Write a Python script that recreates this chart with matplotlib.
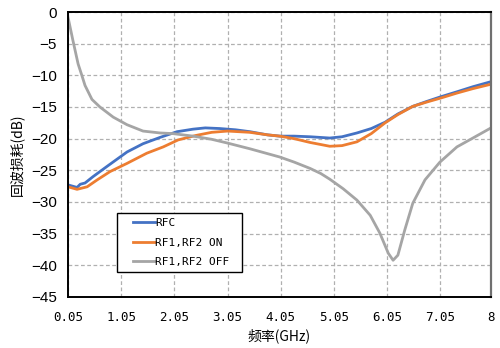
import matplotlib.pyplot as plt
import matplotlib.patches as mpatches
import numpy as np

# readings taken off the reference chart
freq_rfc = [0.05, 0.22, 0.28, 0.37, 0.52, 0.78, 1.16, 1.46, 1.78, 2.10, 2.40, 2.63, 2.90,
            3.20, 3.47, 3.80, 4.03, 4.30, 4.60, 4.97, 5.20, 5.48, 5.75, 6.01, 6.25, 6.53,
            6.80, 7.05, 7.36, 7.66, 8.0]
s11_rfc = [-27.3, -27.7, -27.2, -27.0, -26.0, -24.4, -22.1, -20.8, -19.8, -18.9, -18.5, -18.3,
           -18.4, -18.6, -18.9, -19.4, -19.6, -19.6, -19.7, -19.9, -19.7, -19.1, -18.4, -17.4,
           -16.1, -14.9, -14.1, -13.4, -12.6, -11.8, -11.0]

freq_on = [0.05, 0.22, 0.41, 0.60, 0.84, 1.16, 1.53, 1.84, 2.12, 2.45, 2.75, 3.05, 3.47,
           3.80, 4.03, 4.30, 4.60, 4.97, 5.20, 5.48, 5.75, 6.01, 6.25, 6.53, 6.80, 7.05,
           7.36, 7.66, 8.0]
s11_on = [-27.6, -28.0, -27.6, -26.5, -25.2, -23.9, -22.3, -21.3, -20.2, -19.5, -19.0, -18.8,
          -19.0, -19.4, -19.6, -20.0, -20.6, -21.2, -21.1, -20.5, -19.2, -17.5, -16.2, -14.9,
          -14.2, -13.6, -12.8, -12.1, -11.4]

freq_off = [0.05, 0.10, 0.14, 0.24, 0.31, 0.37, 0.50, 0.65, 0.90, 1.16, 1.46, 1.78, 2.02,
            2.40, 2.75, 3.05, 3.47, 4.03, 4.30, 4.60, 4.80, 4.97, 5.22, 5.48, 5.73, 5.91,
            6.07, 6.16, 6.25, 6.38, 6.53, 6.76, 7.04, 7.36, 7.66, 8.0]
s11_off = [-0.8, -2.8, -4.4, -8.2, -10.0, -11.6, -13.8, -15.0, -16.6, -17.8, -18.8, -19.1,
           -19.2, -19.6, -20.1, -20.7, -21.6, -22.9, -23.7, -24.7, -25.5, -26.4, -27.9, -29.7,
           -32.1, -34.9, -38.1, -39.2, -38.4, -34.4, -30.2, -26.5, -23.7, -21.3, -19.9, -18.3]

xticks = [0.05, 1.05, 2.05, 3.05, 4.05, 5.05, 6.05, 7.05, 8]
xtick_labels = ['0.05', '1.05', '2.05', '3.05', '4.05', '5.05', '6.05', '7.05', '8']
yticks = np.arange(-45, 1, 5)

plt.rcParams['font.family'] = ['Noto Sans CJK SC', 'DejaVu Sans']

fig = plt.figure(figsize=(5.0, 3.48), dpi=100)
ax = fig.add_axes([0.136, 0.1466, 0.846, 0.8189])

ax.plot(freq_rfc, s11_rfc, color='#4472C4', lw=2, label='RFC')
ax.plot(freq_on, s11_on, color='#ED7D31', lw=2, label='RF1,RF2 ON')
ax.plot(freq_off, s11_off, color='#A5A5A5', lw=2, label='RF1,RF2 OFF')

ax.set_xlim(0.05, 8)
ax.set_ylim(-45, 0)
ax.set_xticks(xticks)
ax.set_xticklabels(xtick_labels, family='DejaVu Sans Mono', fontsize=9)
ax.set_yticks(yticks)
ax.set_yticklabels([str(v).replace('-', '\u2212') for v in yticks], family='Liberation Sans', fontsize=11)
ax.tick_params(length=0)
ax.tick_params(axis='x', pad=10)
ax.tick_params(axis='y', pad=8)
ax.grid(True, color='#B0B0B0', ls=(0, (3, 2)), lw=0.9)
for side in ['left', 'bottom', 'top']:
    ax.spines[side].set_linewidth(1.4)
ax.spines['right'].set_color('#707070')
ax.spines['right'].set_linewidth(1.6)

ax.set_xlabel('频率(GHz)', fontsize=10, labelpad=3)
ax.set_ylabel('回波损耗(dB)', fontsize=10, labelpad=5)

# legend box drawn separately so the inner padding can match the original
frame = mpatches.Rectangle((0.116, 0.088), 0.295, 0.207, transform=ax.transAxes,
                           facecolor='white', edgecolor='black', lw=1.0, zorder=4)
ax.add_patch(frame)
leg = ax.legend(loc='upper left', bbox_to_anchor=(0.153, 0.276), frameon=False,
                prop={'family': 'DejaVu Sans Mono', 'size': 8},
                handlelength=2.0, handletextpad=0.0, borderpad=0, labelspacing=0.85,
                borderaxespad=0)
leg.set_zorder(5)

fig.savefig('out.png', dpi=100)
